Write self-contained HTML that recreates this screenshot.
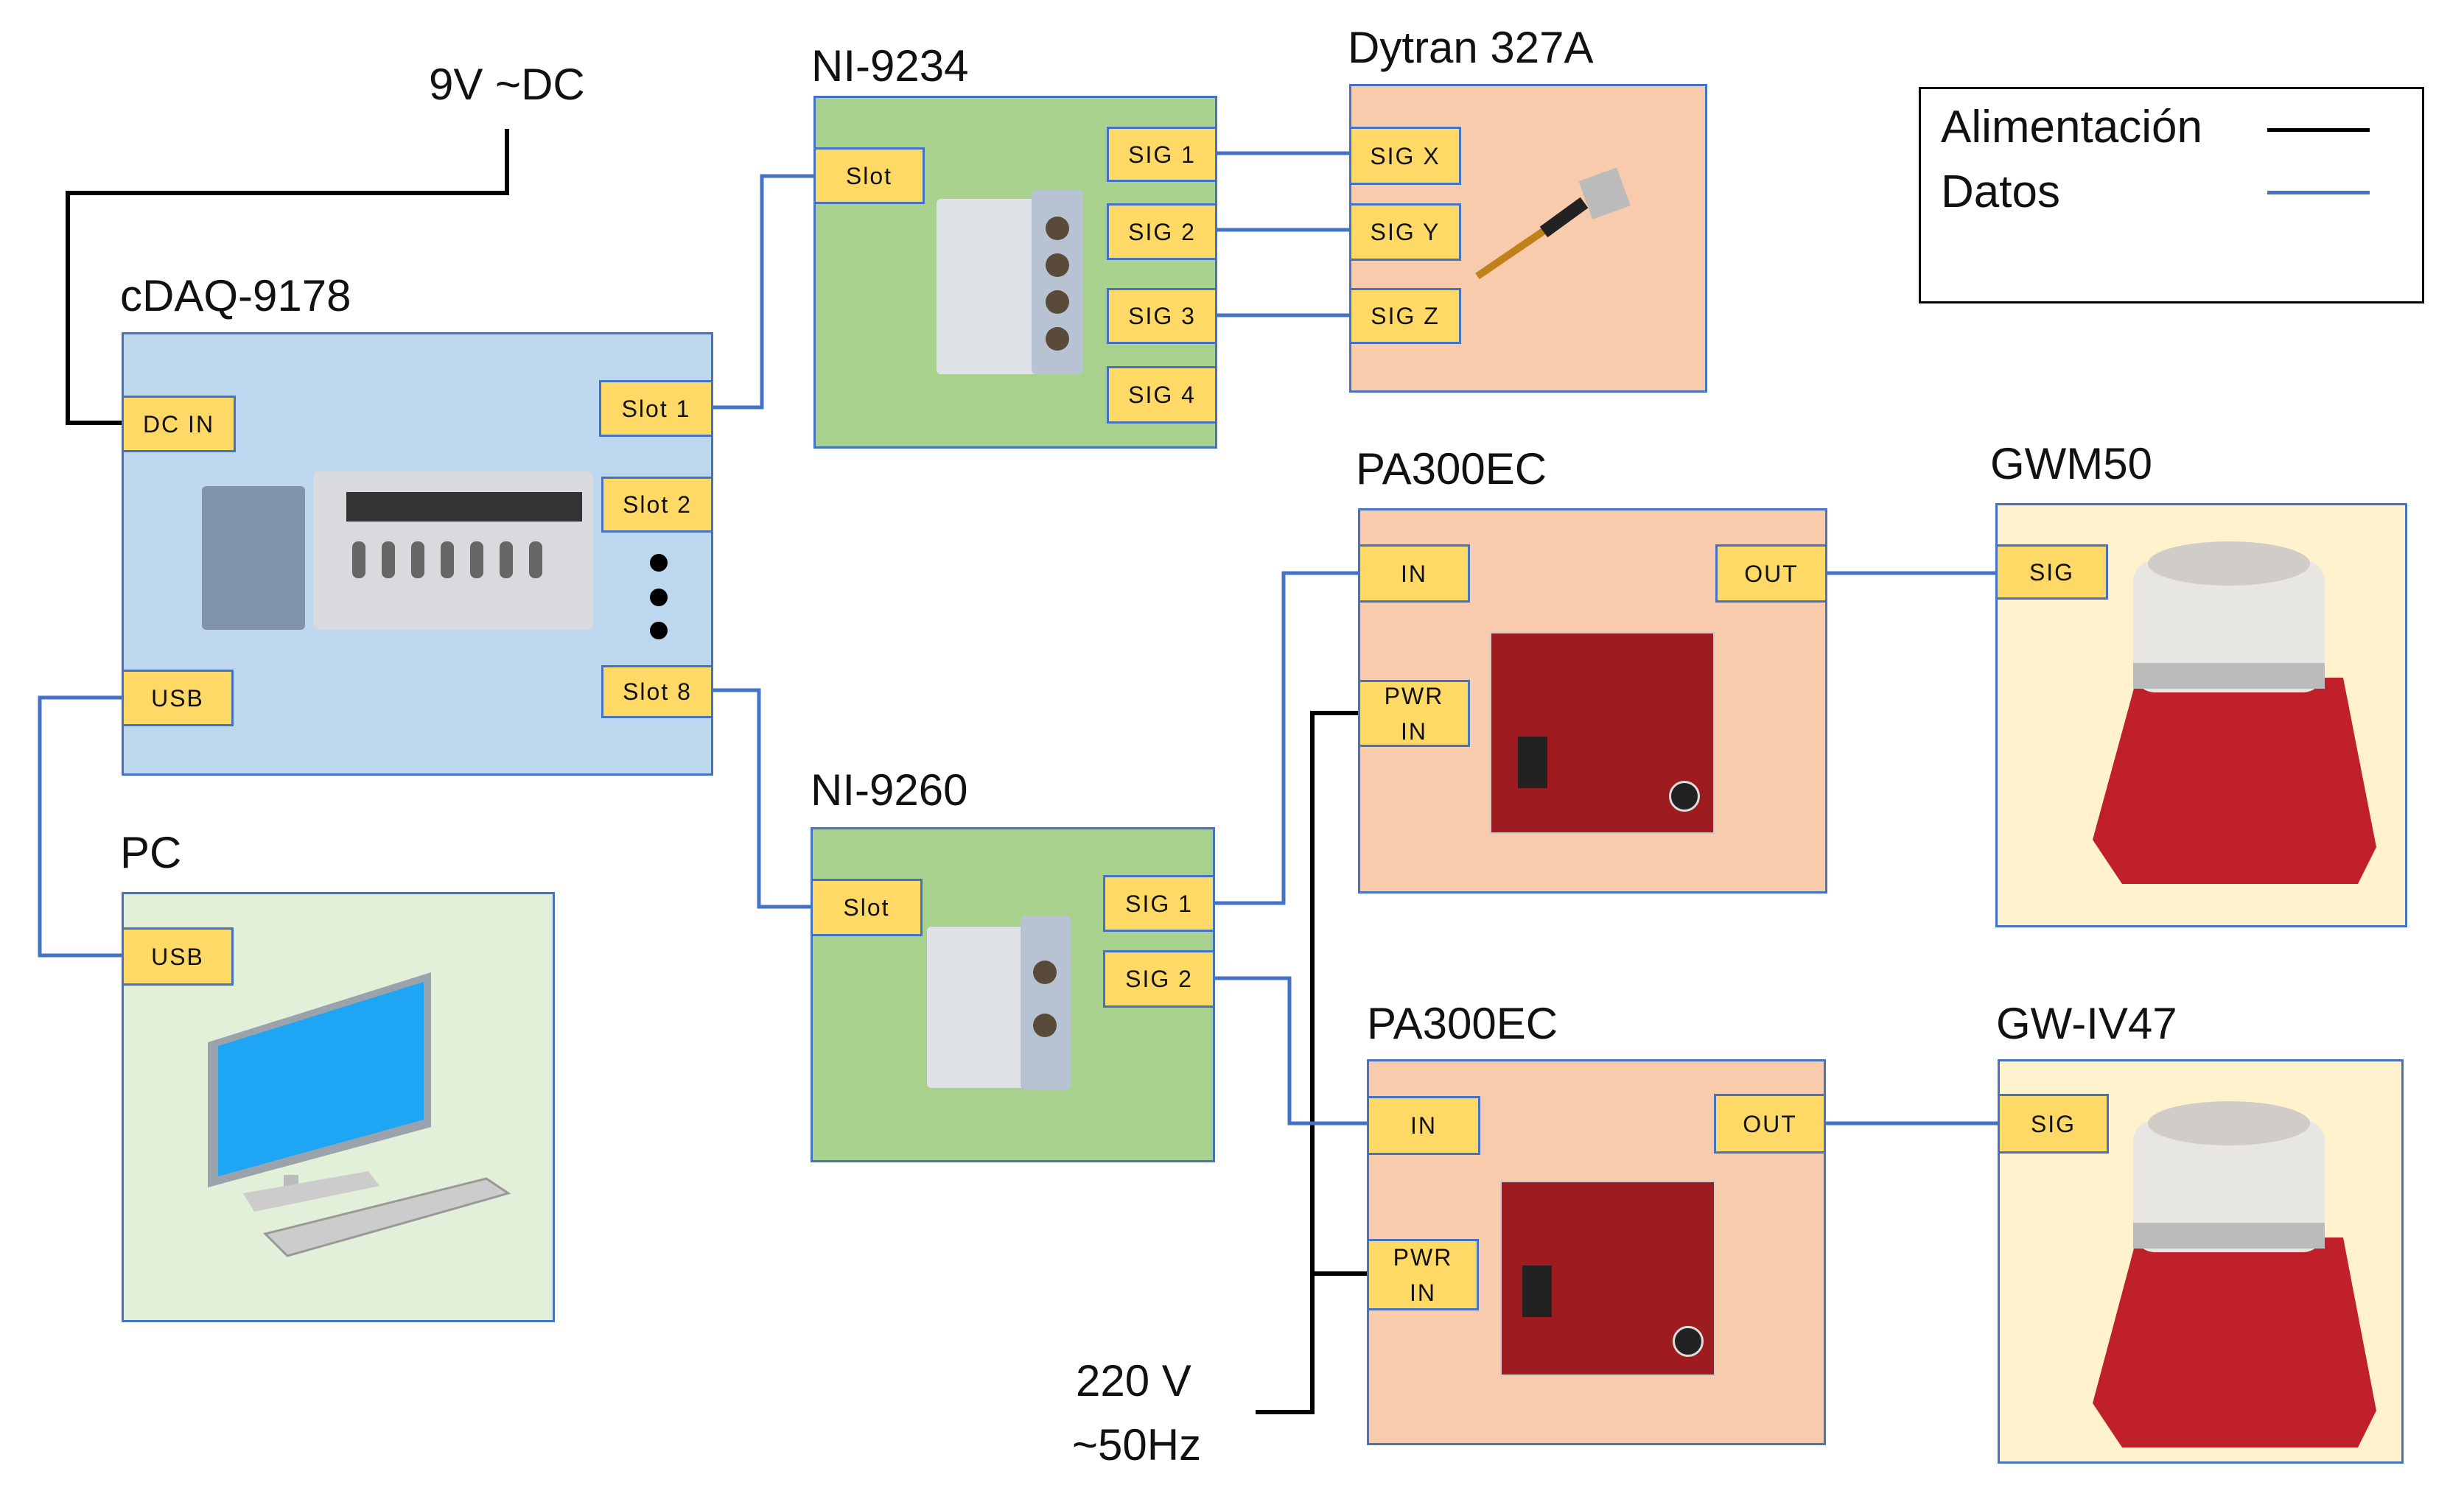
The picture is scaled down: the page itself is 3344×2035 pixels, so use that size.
<!DOCTYPE html>
<html><head><meta charset="utf-8"><style>
body{margin:0;width:3344px;height:2035px;background:#fff;position:relative;overflow:hidden;font-family:"Liberation Sans",sans-serif}
.b{position:absolute;box-sizing:border-box;border:3px solid #4472C4}
.p{position:absolute;box-sizing:border-box;border:3px solid #4472C4;background:#FFD966;display:flex;align-items:center;justify-content:center;text-align:center;font-size:32px;letter-spacing:2px;line-height:48px;color:#111}
.t{position:absolute;font-size:60px;color:#111;white-space:nowrap;line-height:1}
svg{position:absolute;left:0;top:0}
</style></head><body>
<svg width="3344" height="2035">
<g fill="none" stroke="#000" stroke-width="6">
<polyline points="688,175 688,262 92,262 92,574 165,574"/>
<polyline points="1843,968 1781,968 1781,1917 1704,1917"/>
<polyline points="1781,1729 1855,1729"/>
</g>
<g fill="none" stroke="#4472C4" stroke-width="5">
<polyline points="165,947 54,947 54,1297 165,1297"/>
<polyline points="967,553 1034,553 1034,239 1104,239"/>
<polyline points="967,937 1030,937 1030,1231 1100,1231"/>
<line x1="1652" y1="208" x2="1831" y2="208"/>
<line x1="1652" y1="312" x2="1831" y2="312"/>
<line x1="1652" y1="428" x2="1831" y2="428"/>
<polyline points="1649,1226 1742,1226 1742,778 1843,778"/>
<polyline points="1649,1328 1750,1328 1750,1525 1855,1525"/>
<line x1="2480" y1="778" x2="2708" y2="778"/>
<line x1="2478" y1="1525" x2="2711" y2="1525"/>
</g>
</svg>

<div class="t" style="left:582px;top:85px">9V ~DC</div>
<div class="t" style="left:163px;top:372px">cDAQ-9178</div>
<div class="b" style="left:165px;top:451px;width:803px;height:602px;background:#BDD7EE"></div>
<div style="position:absolute;left:274px;top:660px;width:140px;height:195px;background:#7f93ad;border-radius:6px"></div>
<div style="position:absolute;left:425px;top:640px;width:380px;height:215px;background:#d8dadd;border-radius:8px"></div>
<div style="position:absolute;left:470px;top:668px;width:320px;height:40px;background:#333"></div>
<svg width="3344" height="2035" style="pointer-events:none">
<g fill="#666"><rect x="478" y="735" width="18" height="50" rx="8"/><rect x="518" y="735" width="18" height="50" rx="8"/><rect x="558" y="735" width="18" height="50" rx="8"/><rect x="598" y="735" width="18" height="50" rx="8"/><rect x="638" y="735" width="18" height="50" rx="8"/><rect x="678" y="735" width="18" height="50" rx="8"/><rect x="718" y="735" width="18" height="50" rx="8"/></g>
<circle cx="894" cy="764" r="12" fill="#000"/><circle cx="894" cy="811" r="12" fill="#000"/><circle cx="894" cy="856" r="12" fill="#000"/>
</svg>
<div class="p" style="left:165px;top:537px;width:155px;height:77px">DC IN</div>
<div class="p" style="left:813px;top:516px;width:155px;height:77px">Slot 1</div>
<div class="p" style="left:816px;top:647px;width:152px;height:76px">Slot 2</div>
<div class="p" style="left:816px;top:903px;width:152px;height:72px">Slot 8</div>
<div class="p" style="left:165px;top:909px;width:152px;height:77px">USB</div>

<div class="t" style="left:163px;top:1128px">PC</div>
<div class="b" style="left:165px;top:1211px;width:588px;height:584px;background:#E2F0D9"></div>
<div class="p" style="left:165px;top:1259px;width:152px;height:79px">USB</div>
<svg width="3344" height="2035">
<polygon points="282,1415 585,1320 585,1530 282,1612" fill="#9aa3ab"/>
<polygon points="296,1420 575,1333 575,1520 296,1597" fill="#1EA6F5"/>
<polygon points="385,1595 405,1595 405,1615 385,1615" fill="#bbb"/>
<polygon points="330,1620 500,1590 515,1610 345,1645" fill="#ccc"/>
<polygon points="360,1675 660,1600 690,1620 390,1705" fill="#ccc" stroke="#999" stroke-width="3"/>
</svg>

<div class="t" style="left:1101px;top:60px">NI-9234</div>
<div class="b" style="left:1104px;top:130px;width:548px;height:479px;background:#A9D18E"></div>
<div style="position:absolute;left:1271px;top:270px;width:150px;height:238px;background:#dfe3e8;border-radius:6px"></div>
<div style="position:absolute;left:1400px;top:258px;width:70px;height:250px;background:#b7c3d3;border-radius:6px"></div>
<svg width="3344" height="2035"><g fill="#5a4a3a"><circle cx="1435" cy="310" r="16"/><circle cx="1435" cy="360" r="16"/><circle cx="1435" cy="410" r="16"/><circle cx="1435" cy="460" r="16"/></g></svg>
<div class="p" style="left:1104px;top:200px;width:151px;height:77px">Slot</div>
<div class="p" style="left:1502px;top:172px;width:150px;height:75px">SIG 1</div>
<div class="p" style="left:1502px;top:276px;width:150px;height:77px">SIG 2</div>
<div class="p" style="left:1502px;top:391px;width:150px;height:76px">SIG 3</div>
<div class="p" style="left:1502px;top:497px;width:150px;height:78px">SIG 4</div>

<div class="t" style="left:1829px;top:35px">Dytran 327A</div>
<div class="b" style="left:1831px;top:114px;width:486px;height:419px;background:#F8CBAD"></div>
<svg width="3344" height="2035">
<line x1="2005" y1="375" x2="2115" y2="300" stroke="#c0801a" stroke-width="10"/>
<line x1="2095" y1="315" x2="2150" y2="275" stroke="#222" stroke-width="18"/>
<rect x="2150" y="235" width="55" height="55" fill="#bbb" transform="rotate(-20 2178 262)"/>
</svg>
<div class="p" style="left:1831px;top:172px;width:152px;height:79px">SIG X</div>
<div class="p" style="left:1831px;top:276px;width:152px;height:78px">SIG Y</div>
<div class="p" style="left:1831px;top:391px;width:152px;height:76px">SIG Z</div>

<div style="position:absolute;left:2604px;top:118px;width:686px;height:294px;box-sizing:border-box;border:3px solid #000"></div>
<div class="t" style="left:2634px;top:142px;font-size:62px">Alimentación</div>
<div class="t" style="left:2634px;top:230px;font-size:62px">Datos</div>
<div style="position:absolute;left:3077px;top:174px;width:139px;height:5px;background:#000"></div>
<div style="position:absolute;left:3077px;top:259px;width:139px;height:5px;background:#4472C4"></div>

<div class="t" style="left:1840px;top:607px">PA300EC</div>
<div class="b" style="left:1843px;top:690px;width:637px;height:523px;background:#F8CBAD"></div>
<div style="position:absolute;left:2022px;top:858px;width:305px;height:274px;background:#9e1b20;border:2px solid #ccc;box-sizing:border-box"></div>
<div style="position:absolute;left:2060px;top:1000px;width:40px;height:70px;background:#222"></div>
<div style="position:absolute;left:2265px;top:1060px;width:36px;height:36px;border-radius:50%;background:#222;border:3px solid #ddd"></div>
<div class="p" style="left:1843px;top:739px;width:152px;height:79px">IN</div>
<div class="p" style="left:2328px;top:739px;width:152px;height:79px">OUT</div>
<div class="p" style="left:1843px;top:923px;width:152px;height:91px">PWR<br>IN</div>

<div class="t" style="left:2701px;top:600px">GWM50</div>
<div class="b" style="left:2708px;top:683px;width:559px;height:576px;background:#FFF2CC"></div>
<svg width="3344" height="2035">
<polygon points="2900,920 3180,920 3225,1150 3200,1200 2880,1200 2840,1140" fill="#c0202a"/>
<rect x="2895" y="760" width="260" height="180" rx="30" fill="#e8e6e2"/>
<rect x="2895" y="900" width="260" height="35" fill="#bbb"/>
<ellipse cx="3025" cy="765" rx="110" ry="30" fill="#d0cdc8"/>
</svg>
<div class="p" style="left:2708px;top:739px;width:153px;height:75px">SIG</div>

<div class="t" style="left:1100px;top:1043px">NI-9260</div>
<div class="b" style="left:1100px;top:1123px;width:549px;height:455px;background:#A9D18E"></div>
<div style="position:absolute;left:1258px;top:1258px;width:145px;height:219px;background:#dfe3e8;border-radius:6px"></div>
<div style="position:absolute;left:1385px;top:1243px;width:68px;height:236px;background:#b7c3d3;border-radius:6px"></div>
<svg width="3344" height="2035"><g fill="#5a4a3a"><circle cx="1418" cy="1320" r="16"/><circle cx="1418" cy="1392" r="16"/></g></svg>
<div class="p" style="left:1100px;top:1193px;width:152px;height:78px">Slot</div>
<div class="p" style="left:1497px;top:1188px;width:152px;height:77px">SIG 1</div>
<div class="p" style="left:1497px;top:1290px;width:152px;height:78px">SIG 2</div>

<div class="t" style="left:1855px;top:1360px">PA300EC</div>
<div class="b" style="left:1855px;top:1438px;width:623px;height:524px;background:#F8CBAD"></div>
<div style="position:absolute;left:2036px;top:1603px;width:292px;height:265px;background:#9e1b20;border:2px solid #ccc;box-sizing:border-box"></div>
<div style="position:absolute;left:2066px;top:1718px;width:40px;height:70px;background:#222"></div>
<div style="position:absolute;left:2270px;top:1800px;width:36px;height:36px;border-radius:50%;background:#222;border:3px solid #ddd"></div>
<div class="p" style="left:1855px;top:1488px;width:154px;height:80px">IN</div>
<div class="p" style="left:2326px;top:1485px;width:152px;height:81px">OUT</div>
<div class="p" style="left:1855px;top:1682px;width:152px;height:97px">PWR<br>IN</div>

<div class="t" style="left:2709px;top:1360px">GW-IV47</div>
<div class="b" style="left:2711px;top:1438px;width:551px;height:549px;background:#FFF2CC"></div>
<svg width="3344" height="2035">
<polygon points="2900,1680 3180,1680 3225,1915 3200,1965 2880,1965 2840,1905" fill="#c0202a"/>
<rect x="2895" y="1520" width="260" height="180" rx="30" fill="#e8e6e2"/>
<rect x="2895" y="1660" width="260" height="35" fill="#bbb"/>
<ellipse cx="3025" cy="1525" rx="110" ry="30" fill="#d0cdc8"/>
</svg>
<div class="p" style="left:2711px;top:1485px;width:151px;height:81px">SIG</div>

<div class="t" style="left:1460px;top:1845px">220 V</div>
<div class="t" style="left:1455px;top:1932px">~50Hz</div>
</body></html>
